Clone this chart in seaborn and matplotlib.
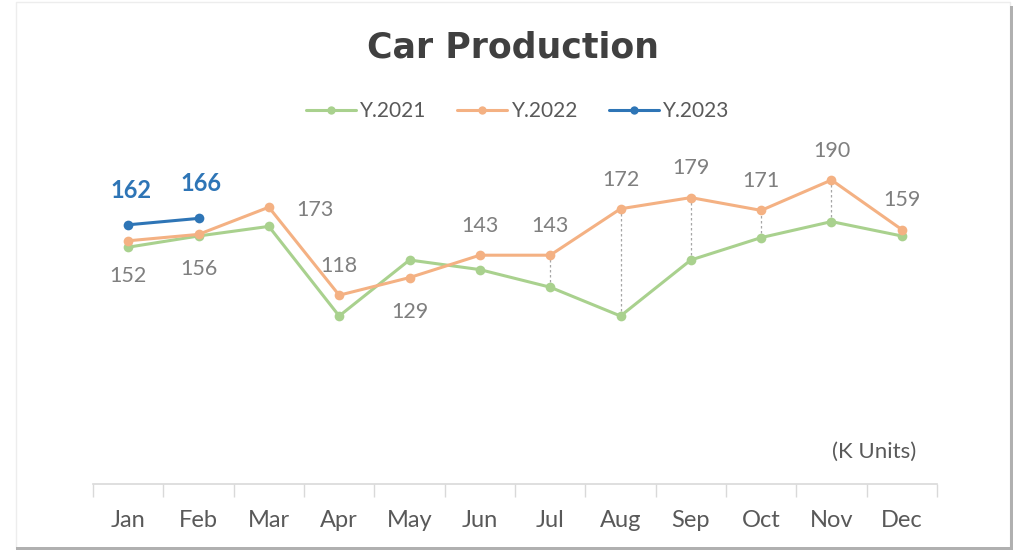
import matplotlib
matplotlib.use("Agg")
import matplotlib.pyplot as plt
from matplotlib.lines import Line2D
from matplotlib.patches import Rectangle
import seaborn as sns
import pandas as pd
import numpy as np

months = ["Jan", "Feb", "Mar", "Apr", "May", "Jun",
          "Jul", "Aug", "Sep", "Oct", "Nov", "Dec"]
y2021 = [148, 155, 161, 105, 140, 134, 123, 105, 140, 154, 164, 155]
y2022 = [152, 156, 173, 118, 129, 143, 143, 172, 179, 171, 190, 159]
y2023 = [162, 166]
series_names = ["Y.2021", "Y.2022", "Y.2023"]
# months where a dotted drop line joins the 2021 and 2022 points
drop_months = ["Jul", "Aug", "Sep", "Oct", "Nov"]
# where each 2022 value label sits relative to its point
label_side_2022 = ["below", "below", "right", "above", "below", "above",
                   "above", "above", "above", "above", "above", "above"]

colors = {"Y.2021": "#A9D18E", "Y.2022": "#F4B183", "Y.2023": "#2E75B6"}

rows = []
for name, vals in zip(series_names, [y2021, y2022, y2023]):
    for i, v in enumerate(vals):
        rows.append({"month": months[i], "pos": i, "series": name, "value": v})
df = pd.DataFrame(rows)

sns.set_theme(style="white")
plt.rcParams["font.family"] = ["Lato", "DejaVu Sans"]

fig = plt.figure(figsize=(10.15, 5.5), dpi=100)
W, H = 1015, 550
ax = fig.add_axes([93 / W, (H - 484) / H, (937 - 93) / W, (484 - 84) / H])

for name in series_names:
    sub = df[df["series"] == name]
    sns.lineplot(data=sub, x="pos", y="value", ax=ax, color=colors[name],
                 marker="o", markersize=7, markeredgewidth=0,
                 linewidth=2.2, legend=False, zorder=3 + series_names.index(name))

# dotted connectors between the two full years
for m in drop_months:
    i = months.index(m)
    ax.vlines(i, y2021[i], y2022[i], colors="#A6A6A6", linestyles=(0, (2, 2)),
              linewidth=0.9, zorder=2)

ax.set_xlim(-0.5, 11.5)
ax.set_ylim(0, 250)
ax.set_xlabel("")
ax.set_ylabel("")
ax.set_yticks([])
for s in ["top", "right", "left"]:
    ax.spines[s].set_visible(False)
ax.spines["bottom"].set_color("#D9D9D9")
ax.spines["bottom"].set_linewidth(1.2)

ax.set_xticks(range(12))
ax.set_xticklabels(months, fontsize=17, color="#595959")
ax.set_xticks(np.arange(-0.5, 12, 1), minor=True)
ax.tick_params(axis="x", which="major", length=0, pad=19)
ax.tick_params(axis="x", which="minor", length=9, width=1.0,
               color="#D9D9D9", direction="out", bottom=True)

# value labels for 2022
offsets = {"below": (0, -25, "center", "center"),
           "above": (0, 21, "center", "center"),
           "right": (20, -2, "left", "center")}
for i, (v, side) in enumerate(zip(y2022, label_side_2022)):
    dx, dy, ha, va = offsets[side]
    ax.annotate(f"{v}", (i, v), xytext=(dx, dy), textcoords="offset points",
                ha=ha, va=va, fontsize=15.5, color="#7F7F7F", zorder=10)

# value labels for 2023
for i, v in enumerate(y2023):
    ax.annotate(f"{v}", (i, v), xytext=(2, 25), textcoords="offset points",
                ha="center", va="center", fontsize=17, fontweight="bold",
                color=colors["Y.2023"], zorder=10)

ax.text(0.976, 0.08, "(K Units)", transform=ax.transAxes, ha="right",
        va="center", fontsize=16, color="#595959")

fig.text(0.505, (H - 47) / H, "Car Production", ha="center", va="center",
         fontsize=25, fontweight="bold", color="#404040",
         family=["DejaVu Sans"])

handles = [Line2D([], [], color=colors[n], marker="o", markersize=6,
                  markeredgewidth=0, linewidth=2.2) for n in series_names]
fig.legend(handles, series_names, loc="center", ncol=3,
           bbox_to_anchor=(0.510, (H - 111) / H), frameon=False,
           fontsize=15, labelcolor="#595959", handlelength=2.4,
           handletextpad=0.2, columnspacing=1.5)

# chart frame with a soft shadow on the right and bottom
fig.patches.append(Rectangle((16 / W, 2 / H), (1010 - 16) / W, (546) / H,
                             transform=fig.transFigure, fill=False,
                             edgecolor="#EDEDED", linewidth=1.0))
fig.patches.append(Rectangle((1010 / W, 0), 3 / W, 544 / H,
                             transform=fig.transFigure, facecolor="#B0B0B0",
                             edgecolor="none"))
fig.patches.append(Rectangle((16 / W, 0), (1013 - 16) / W, 3 / H,
                             transform=fig.transFigure, facecolor="#B0B0B0",
                             edgecolor="none"))

fig.savefig("out.png", dpi=100, facecolor="white")
